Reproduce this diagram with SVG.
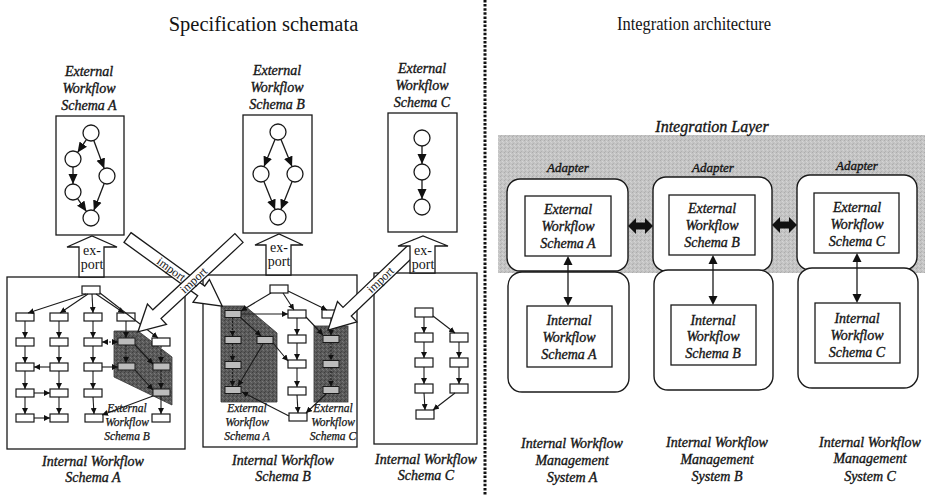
<svg xmlns="http://www.w3.org/2000/svg" width="929" height="495" viewBox="0 0 929 495">
  <style>
    .t { font-family: "Liberation Serif", "Times New Roman", serif; fill: #141414; }
    .ttl { font-size: 20.5px; text-anchor: middle; }
    .lbl { font-size: 14px; text-anchor: middle; font-style: italic; stroke: #141414; stroke-width: 0.35px; }
    .sml { font-size: 11.5px; text-anchor: middle; font-style: italic; stroke: #141414; stroke-width: 0.25px; }
    .exp { font-size: 14px; text-anchor: middle; }
    .imp { font-size: 12px; text-anchor: middle; }
    .box { fill: #fff; stroke: #1a1a1a; stroke-width: 1.3; }
    .rbox { fill: #fff; stroke: #1a1a1a; stroke-width: 1.4; }
    .circ { fill: #fff; stroke: #1a1a1a; stroke-width: 1.3; }
    .n { fill: #fff; stroke: #1a1a1a; stroke-width: 1.2; }
    .ns { fill: #bcbcbc; stroke: #1a1a1a; stroke-width: 1; }
    .big { stroke: #1a1a1a; stroke-width: 1.3; fill: none; marker-end: url(#bigHead); }
    .e { stroke: #1a1a1a; stroke-width: 1.1; fill: none; marker-end: url(#smallHead); }
    .dash { stroke-dasharray: 2 1.5; }
    .hollow { fill: #fff; stroke: #1a1a1a; stroke-width: 1.3; stroke-linejoin: miter; }
    .dark { fill: url(#grainDark); stroke: #333; stroke-width: 0.8; }
    .vline { stroke: #1a1a1a; stroke-width: 1.3; }
  </style>
  <defs>
    <marker id="bigHead" markerUnits="userSpaceOnUse" markerWidth="10" markerHeight="10" refX="10" refY="5" orient="auto">
      <path d="M0,0.5 L10,5 L0,9.5 z" fill="#111"/>
    </marker>
    <marker id="smallHead" markerUnits="userSpaceOnUse" markerWidth="6" markerHeight="6" refX="6" refY="3" orient="auto">
      <path d="M0,0 L6,3 L0,6 z" fill="#111"/>
    </marker>
    <marker id="smallTail" markerUnits="userSpaceOnUse" markerWidth="6" markerHeight="6" refX="0" refY="3" orient="auto">
      <path d="M6,0 L0,3 L6,6 z" fill="#111"/>
    </marker>
    <pattern id="grainLight" width="4" height="4" patternUnits="userSpaceOnUse">
      <rect width="4" height="4" fill="#c4c4c4"/>
      <rect x="0" y="0" width="1" height="1" fill="#acacac"/>
      <rect x="2" y="1" width="1" height="1" fill="#d6d6d6"/>
      <rect x="1" y="3" width="1" height="1" fill="#b2b2b2"/>
      <rect x="3" y="2" width="1" height="1" fill="#d2d2d2"/>
    </pattern>
    <pattern id="grainDark" width="4" height="4" patternUnits="userSpaceOnUse">
      <rect width="4" height="4" fill="#5a5a5a"/>
      <rect x="0" y="0" width="1" height="1" fill="#3e3e3e"/>
      <rect x="2" y="1" width="1" height="1" fill="#7a7a7a"/>
      <rect x="1" y="3" width="1" height="1" fill="#444"/>
      <rect x="3" y="2" width="1" height="1" fill="#747474"/>
    </pattern>
  </defs>

  <!-- headings and divider -->
  <text class="t ttl" x="263.5" y="31">Specification schemata</text>
  <text class="t ttl" x="694" y="30" style="font-size:19px" textLength="154" lengthAdjust="spacingAndGlyphs">Integration architecture</text>
  <line x1="485" y1="0" x2="485" y2="495" stroke="#111" stroke-width="3" stroke-dasharray="2.5 1.6"/>

  <!-- ===== external schemata ===== -->
  <g id="ext-schema-a">
    <text class="t lbl" x="89" y="76">External</text>
    <text class="t lbl" x="89" y="93">Workflow</text>
    <text class="t lbl" x="89" y="110">Schema A</text>
    <rect class="box" x="56" y="116" width="68" height="119"/>
    <circle class="circ" cx="91" cy="133" r="8"/>
    <circle class="circ" cx="73" cy="159" r="8"/>
    <circle class="circ" cx="107" cy="176" r="8"/>
    <circle class="circ" cx="73" cy="192" r="8"/>
    <circle class="circ" cx="91" cy="218" r="8"/>
    <line class="big" x1="86.4" y1="139.6" x2="77.6" y2="152.4"/>
    <line class="big" x1="93.8" y1="140.5" x2="104.2" y2="168.5"/>
    <line class="big" x1="73" y1="167" x2="73" y2="184"/>
    <line class="big" x1="77.6" y1="198.6" x2="86.4" y2="211.4"/>
    <line class="big" x1="104.2" y1="183.5" x2="93.8" y2="210.5"/>
  </g>

  <g id="ext-schema-b">
    <text class="t lbl" x="277" y="75">External</text>
    <text class="t lbl" x="277" y="92">Workflow</text>
    <text class="t lbl" x="277" y="109">Schema B</text>
    <rect class="box" x="243" y="115" width="69" height="118"/>
    <circle class="circ" cx="278" cy="132" r="8"/>
    <circle class="circ" cx="261" cy="174" r="8"/>
    <circle class="circ" cx="295" cy="174" r="8"/>
    <circle class="circ" cx="278" cy="217" r="8"/>
    <line class="big" x1="275" y1="139.4" x2="264" y2="166.6"/>
    <line class="big" x1="281" y1="139.4" x2="292" y2="166.6"/>
    <line class="big" x1="263.9" y1="181.4" x2="275.1" y2="209.6"/>
    <line class="big" x1="292.1" y1="181.4" x2="280.9" y2="209.6"/>
  </g>

  <g id="ext-schema-c">
    <text class="t lbl" x="422" y="73">External</text>
    <text class="t lbl" x="422" y="90">Workflow</text>
    <text class="t lbl" x="422" y="107">Schema C</text>
    <rect class="box" x="388" y="113" width="69" height="119"/>
    <circle class="circ" cx="422" cy="138" r="8"/>
    <circle class="circ" cx="422" cy="172" r="8"/>
    <circle class="circ" cx="422" cy="207" r="8"/>
    <line class="big" x1="422" y1="146" x2="422" y2="164"/>
    <line class="big" x1="422" y1="180" x2="422" y2="199"/>
  </g>

  <!-- ===== internal schema A ===== -->
  <g id="int-schema-a">
    <rect class="box" x="7" y="277" width="178" height="172"/>
    <polygon class="dark" points="114,331 138,331 172,357 172,405 114,377"/>
    <rect class="n" x="82" y="286" width="18" height="8"/>
    <rect class="n" x="16" y="313" width="18" height="8"/>
    <rect class="n" x="50" y="313" width="18" height="8"/>
    <rect class="n" x="84" y="313" width="18" height="8"/>
    <rect class="n" x="117" y="313" width="18" height="8"/>
    <rect class="n" x="16" y="338" width="18" height="8"/>
    <rect class="n" x="50" y="338" width="18" height="8"/>
    <rect class="n" x="84" y="338" width="18" height="8"/>
    <rect class="ns" x="118" y="338" width="17" height="7"/>
    <rect class="n" x="152" y="338" width="18" height="8"/>
    <rect class="n" x="16" y="363" width="18" height="8"/>
    <rect class="n" x="50" y="363" width="18" height="8"/>
    <rect class="n" x="84" y="363" width="18" height="8"/>
    <rect class="ns" x="118" y="363" width="17" height="7"/>
    <rect class="ns" x="153" y="363" width="17" height="7"/>
    <rect class="n" x="16" y="389" width="18" height="8"/>
    <rect class="n" x="50" y="389" width="18" height="8"/>
    <rect class="n" x="84" y="389" width="18" height="8"/>
    <rect class="ns" x="153" y="389" width="17" height="7"/>
    <rect class="n" x="16" y="414" width="18" height="8"/>
    <rect class="n" x="50" y="414" width="18" height="8"/>
    <rect class="n" x="85" y="414" width="18" height="8"/>
    <rect class="n" x="152" y="414" width="18" height="8"/>
    <text class="t sml" x="127" y="412">External</text>
    <text class="t sml" x="127" y="426">Workflow</text>
    <text class="t sml" x="127" y="440">Schema B</text>
    <text class="t lbl" x="93" y="466">Internal Workflow</text>
    <text class="t lbl" x="93" y="482">Schema A</text>
  </g>

  <!-- ===== internal schema B ===== -->
  <g id="int-schema-b">
    <rect class="box" x="203" y="275" width="154" height="172"/>
    <polygon class="dark" points="221,306 245,306 277,333 277,402 221,402"/>
    <rect class="dark" x="314" y="326" width="34" height="76"/>
    <rect class="n" x="270" y="285" width="18" height="8"/>
    <rect class="ns" x="225" y="310.5" width="16" height="7"/>
    <rect class="n" x="288" y="310" width="18" height="8"/>
    <rect class="n" x="322" y="310" width="18" height="8"/>
    <rect class="ns" x="225" y="336.5" width="16" height="7"/>
    <rect class="ns" x="257" y="336.5" width="16" height="7"/>
    <rect class="n" x="288" y="335" width="18" height="8"/>
    <rect class="ns" x="323" y="335.5" width="16" height="7"/>
    <rect class="ns" x="225" y="361.5" width="16" height="7"/>
    <rect class="n" x="288" y="360" width="18" height="8"/>
    <rect class="ns" x="323" y="360.5" width="16" height="7"/>
    <rect class="ns" x="225" y="386.5" width="16" height="7"/>
    <rect class="n" x="288" y="387" width="18" height="8"/>
    <rect class="ns" x="323" y="386.5" width="16" height="7"/>
    <rect class="n" x="289" y="413" width="18" height="8"/>
    <text class="t sml" x="247" y="412">External</text>
    <text class="t sml" x="247" y="426">Workflow</text>
    <text class="t sml" x="247" y="440">Schema A</text>
    <text class="t sml" x="333" y="412">External</text>
    <text class="t sml" x="333" y="426">Workflow</text>
    <text class="t sml" x="333" y="440">Schema C</text>
    <text class="t lbl" x="283" y="465">Internal Workflow</text>
    <text class="t lbl" x="283" y="481">Schema B</text>
  </g>

  <!-- ===== internal schema C ===== -->
  <g id="int-schema-c">
    <rect class="box" x="374" y="273" width="103" height="171"/>
    <rect class="n" x="415" y="308" width="18" height="9"/>
    <rect class="n" x="415" y="333" width="18" height="9"/>
    <rect class="n" x="450" y="333" width="18" height="9"/>
    <rect class="n" x="415" y="358" width="18" height="9"/>
    <rect class="n" x="450" y="358" width="18" height="9"/>
    <rect class="n" x="415" y="384" width="18" height="9"/>
    <rect class="n" x="450" y="384" width="18" height="9"/>
    <rect class="n" x="416" y="410" width="18" height="9"/>
    <text class="t lbl" x="426" y="464">Internal Workflow</text>
    <text class="t lbl" x="426" y="480">Schema C</text>
  </g>

  <!-- ===== connectors ===== -->
  <g id="connectors">
    <!-- internal schema A -->
    <line class="e" x1="86" y1="294" x2="28" y2="313"/>
    <line class="e" x1="88" y1="294" x2="60" y2="313"/>
    <line class="e" x1="92" y1="294" x2="93" y2="313"/>
    <line class="e" x1="96" y1="294" x2="124" y2="313"/>
    <line class="e" x1="100" y1="293" x2="158" y2="338"/>
    <line class="e" x1="25" y1="321" x2="25" y2="338"/>
    <line class="e" x1="25" y1="346" x2="25" y2="363"/>
    <line class="e" x1="25" y1="371" x2="25" y2="389"/>
    <line class="e" x1="25" y1="397" x2="25" y2="414"/>
    <line class="e" x1="59" y1="321" x2="59" y2="338"/>
    <line class="e" x1="59" y1="346" x2="59" y2="363"/>
    <line class="e" x1="59" y1="371" x2="59" y2="389"/>
    <line class="e" x1="59" y1="397" x2="59" y2="414"/>
    <line class="e" x1="93" y1="321" x2="93" y2="338"/>
    <line class="e" x1="93" y1="346" x2="93" y2="363"/>
    <line class="e" x1="93" y1="371" x2="93" y2="389"/>
    <line class="e" x1="93" y1="397" x2="94" y2="414"/>
    <line class="e" x1="126" y1="321" x2="126" y2="338"/>
    <line class="e dash" x1="126" y1="345" x2="126" y2="363"/>
    <line class="e dash" x1="161" y1="346" x2="161" y2="363"/>
    <line class="e dash" x1="161" y1="370" x2="161" y2="389"/>
    <line class="e" x1="161" y1="396" x2="161" y2="414"/>
    <line class="e" x1="135" y1="345" x2="153" y2="364"/>
    <line class="e" x1="135" y1="370" x2="153" y2="390"/>
    <line class="e" x1="153" y1="396" x2="102" y2="415"/>
    <line class="e" x1="50" y1="367" x2="34" y2="367"/>
    <line class="e" x1="34" y1="393" x2="50" y2="393"/>
    <line class="e" x1="34" y1="418" x2="50" y2="418"/>
    <line class="e dash" x1="102" y1="342" x2="118" y2="342" marker-start="url(#smallTail)"/>
    <line class="e" x1="102" y1="367" x2="118" y2="367"/>

    <!-- internal schema B -->
    <line class="e" x1="271" y1="293" x2="241" y2="311"/>
    <line class="e" x1="283" y1="293" x2="294" y2="310"/>
    <line class="e" x1="288" y1="291" x2="327" y2="310"/>
    <line class="e" x1="241" y1="314" x2="288" y2="314"/>
    <line class="e dash" x1="232.5" y1="317.5" x2="232.5" y2="336.5"/>
    <line class="e dash" x1="232.5" y1="343.5" x2="232.5" y2="361.5"/>
    <line class="e dash" x1="232.5" y1="368.5" x2="232.5" y2="386.5"/>
    <line class="e" x1="240" y1="317" x2="261" y2="336"/>
    <line class="e" x1="263" y1="344" x2="238" y2="386"/>
    <line class="e" x1="273" y1="343" x2="288" y2="361"/>
    <line class="e" x1="297" y1="318" x2="297" y2="335"/>
    <line class="e" x1="297" y1="343" x2="297" y2="360"/>
    <line class="e" x1="297" y1="368" x2="297" y2="387"/>
    <line class="e" x1="297" y1="395" x2="298" y2="413"/>
    <line class="e" x1="289" y1="416" x2="242" y2="392"/>
    <line class="e" x1="306" y1="317" x2="323" y2="335"/>
    <line class="e" x1="331" y1="318" x2="331" y2="335.5"/>
    <line class="e dash" x1="331" y1="342.5" x2="331" y2="360.5"/>
    <line class="e dash" x1="331" y1="367.5" x2="331" y2="386.5"/>
    <line class="e" x1="326" y1="394" x2="306" y2="413"/>

    <!-- internal schema C -->
    <line class="e" x1="424" y1="317" x2="424" y2="333"/>
    <line class="e" x1="433" y1="316" x2="455" y2="333"/>
    <line class="e" x1="424" y1="342" x2="424" y2="358"/>
    <line class="e" x1="424" y1="367" x2="424" y2="384"/>
    <line class="e" x1="424" y1="393" x2="425" y2="410"/>
    <line class="e" x1="459" y1="342" x2="459" y2="358"/>
    <line class="e" x1="459" y1="367" x2="459" y2="384"/>
    <line class="e" x1="455" y1="393" x2="433" y2="410"/>

    <!-- import arrows -->
    <g transform="translate(127.5 237.5) rotate(35.9)">
      <polygon class="hollow" points="0,-6 91,-6 91,-14 117,0 91,14 91,6 0,6"/>
      <text class="t imp" x="54" y="4">import</text>
    </g>
    <g transform="translate(239 238) rotate(137.1)">
      <polygon class="hollow" points="0,-6 112,-6 112,-14 138,0 112,14 112,6 0,6"/>
      <text class="t imp" x="0" y="4" transform="translate(62 0) rotate(180)">import</text>
    </g>
    <g transform="translate(418 244) rotate(136.3)">
      <polygon class="hollow" points="0,-6 98,-6 98,-14 124.5,0 98,14 98,6 0,6"/>
      <text class="t imp" x="0" y="4" transform="translate(52 0) rotate(180)">import</text>
    </g>

    <!-- export arrows -->
    <polygon class="hollow" points="79,277 79,247 67,247 92,236 117,247 104,247 104,277"/>
    <text class="t exp" x="92" y="255">ex-</text>
    <text class="t exp" x="92" y="269">port</text>
    <polygon class="hollow" points="266,275 266,245 255,245 279,234 303,245 291,245 291,275"/>
    <text class="t exp" x="279" y="252">ex-</text>
    <text class="t exp" x="279" y="266">port</text>
    <polygon class="hollow" points="410,273 410,246 398,246 423,236 448,246 435,246 435,273"/>
    <text class="t exp" x="423" y="255">ex-</text>
    <text class="t exp" x="423" y="269">port</text>
  </g>

  <!-- ===== integration architecture ===== -->
  <g id="integration-layer">
    <rect x="498" y="135" width="427" height="138" fill="url(#grainLight)"/>
    <text class="t lbl" x="712" y="132" style="font-size:16px">Integration Layer</text>
  </g>

  <g id="system-a">
    <text class="t lbl" x="568" y="172" style="font-size:13px">Adapter</text>
    <rect class="rbox" x="507" y="179" width="121" height="92" rx="13"/>
    <rect class="box" x="525" y="196" width="86" height="60"/>
    <text class="t lbl" x="568" y="214">External</text>
    <text class="t lbl" x="568" y="231">Workflow</text>
    <text class="t lbl" x="568" y="248">Schema A</text>
    <rect class="rbox" x="508" y="272" width="121" height="120" rx="14"/>
    <rect class="box" x="527" y="306" width="85" height="61"/>
    <text class="t lbl" x="569" y="325">Internal</text>
    <text class="t lbl" x="569" y="342">Workflow</text>
    <text class="t lbl" x="569" y="359">Schema A</text>
    <text class="t lbl" x="572" y="448">Internal Workflow</text>
    <text class="t lbl" x="572" y="465">Management</text>
    <text class="t lbl" x="572" y="482">System A</text>
  </g>

  <g id="system-b">
    <text class="t lbl" x="713" y="172" style="font-size:13px">Adapter</text>
    <rect class="rbox" x="653" y="177" width="119" height="94" rx="13"/>
    <rect class="box" x="669" y="195" width="86" height="60"/>
    <text class="t lbl" x="712" y="213">External</text>
    <text class="t lbl" x="712" y="230">Workflow</text>
    <text class="t lbl" x="712" y="247">Schema B</text>
    <rect class="rbox" x="654" y="270" width="119" height="120" rx="14"/>
    <rect class="box" x="671" y="305" width="85" height="60"/>
    <text class="t lbl" x="713" y="325">Internal</text>
    <text class="t lbl" x="713" y="341">Workflow</text>
    <text class="t lbl" x="713" y="358">Schema B</text>
    <text class="t lbl" x="717" y="447">Internal Workflow</text>
    <text class="t lbl" x="717" y="464">Management</text>
    <text class="t lbl" x="717" y="481">System B</text>
  </g>

  <g id="system-c">
    <text class="t lbl" x="857" y="170" style="font-size:13px">Adapter</text>
    <rect class="rbox" x="797" y="175" width="120" height="95" rx="13"/>
    <rect class="box" x="814" y="193" width="85" height="60"/>
    <text class="t lbl" x="857" y="212">External</text>
    <text class="t lbl" x="857" y="229">Workflow</text>
    <text class="t lbl" x="857" y="246">Schema C</text>
    <rect class="rbox" x="798" y="268" width="120" height="120" rx="14"/>
    <rect class="box" x="815" y="303" width="85" height="60"/>
    <text class="t lbl" x="857" y="323">Internal</text>
    <text class="t lbl" x="857" y="340">Workflow</text>
    <text class="t lbl" x="857" y="357">Schema C</text>
    <text class="t lbl" x="870" y="447">Internal Workflow</text>
    <text class="t lbl" x="870" y="463">Management</text>
    <text class="t lbl" x="870" y="481">System C</text>
  </g>

  <g id="integration-connectors">
    <polygon points="628,226 636,218 636,222.5 645,222.5 645,218 653,226 645,234 645,229.5 636,229.5 636,234" fill="#111"/>
    <polygon points="772,225 780,217 780,221.5 789,221.5 789,217 797,225 789,233 789,228.5 780,228.5 780,233" fill="#111"/>
    <line class="vline" x1="568" y1="264" x2="568" y2="298"/>
    <polygon points="568,256 563.5,265 572.5,265" fill="#111"/>
    <polygon points="568,306 563.5,297 572.5,297" fill="#111"/>
    <line class="vline" x1="713" y1="263" x2="713" y2="297"/>
    <polygon points="713,255 708.5,264 717.5,264" fill="#111"/>
    <polygon points="713,305 708.5,296 717.5,296" fill="#111"/>
    <line class="vline" x1="857" y1="261" x2="857" y2="295"/>
    <polygon points="857,253 852.5,262 861.5,262" fill="#111"/>
    <polygon points="857,303 852.5,294 861.5,294" fill="#111"/>
  </g>
</svg>
